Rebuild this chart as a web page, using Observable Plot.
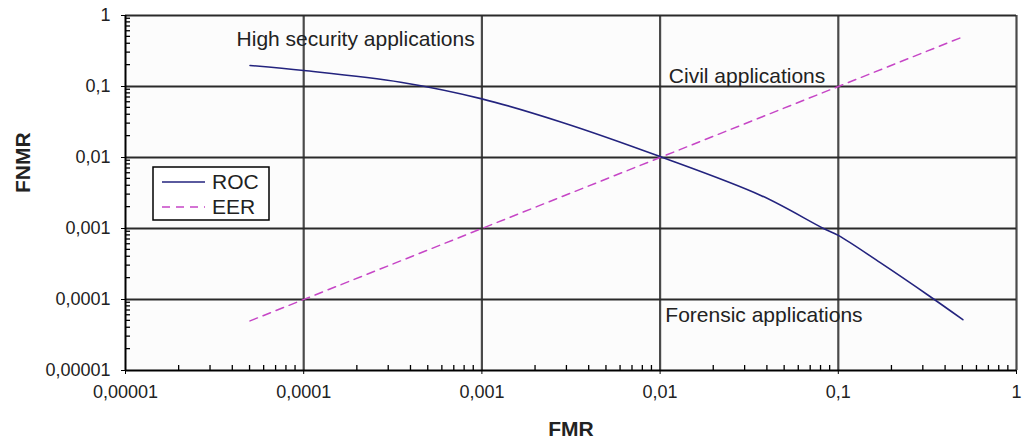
<!DOCTYPE html>
<html><head><meta charset="utf-8">
<script src="https://cdn.jsdelivr.net/npm/d3@7"></script>
<script src="https://cdn.jsdelivr.net/npm/@observablehq/plot@0.6"></script>
<style>body{margin:0;background:#fff;font-family:"Liberation Sans",Arial,sans-serif}</style>
</head><body><div id="chart"></div>
<script>
// Axis decades and their labels
const decades = [1e-5, 1e-4, 1e-3, 1e-2, 1e-1, 1];
const tickLabels = ["0,00001", "0,0001", "0,001", "0,01", "0,1", "1"];
// ROC curve
const rocFMR  = [5e-5, 1e-4, 3.5e-4, 1e-3, 2.8e-3, 1e-2, 3.7e-2, 8.2e-2, 1e-1, 1.72e-1, 3.24e-1, 5e-1];
const rocFNMR = [0.198, 0.168, 0.115, 0.067, 0.0314, 0.0103, 0.0029, 0.00101, 0.0008, 0.00033, 0.000112, 5.2e-5];
// EER line
const eerFMR  = [5e-5, 0.5];
const eerFNMR = [5e-5, 0.5];
// Annotations
const annText = ["High security applications", "Civil applications", "Forensic applications"];
const annFMR  = [4.2e-5, 0.0112, 0.0107];
const annFNMR = [0.459, 0.138, 5.95e-5];
const seriesNames = ["ROC", "EER"];
const axisNames = ["FMR", "FNMR"];

const roc = rocFMR.map((x, i) => ({x, y: rocFNMR[i]}));
const eer = eerFMR.map((x, i) => ({x, y: eerFNMR[i]}));
const ann = annText.map((t, i) => ({t, x: annFMR[i], y: annFNMR[i]}));
const minor = [];
for (const d of decades.slice(0, -1)) for (let k = 2; k < 10; k++) minor.push(d * k);
const fmt = d => { const i = decades.findIndex(v => Math.abs(v - d) / v < 1e-9); return i >= 0 ? tickLabels[i] : ""; };

const ROC_COLOR = "#23237e";
const EER_COLOR = "#c646c6";
const FONT = '"Liberation Sans", Arial, sans-serif';

const plot = Plot.plot({
  width: 1025, height: 444,
  marginLeft: 125, marginRight: 9, marginTop: 15, marginBottom: 74,
  style: {fontFamily: FONT, fontSize: "18px", color: "#111", background: "white", overflow: "visible"},
  x: {type: "log", domain: [1e-5, 1]},
  y: {type: "log", domain: [1e-5, 1]},
  marks: [
    Plot.frame({fill: "#fcfcfc", stroke: null}),
    Plot.ruleX(decades.slice(1), {stroke: "#4a4a4a", strokeWidth: 2.2}),
    Plot.ruleY(decades.slice(1), {stroke: "#2a2a2a", strokeWidth: 1.8}),
    Plot.line(eer, {x: "x", y: "y", stroke: EER_COLOR, strokeWidth: 1.5, strokeDasharray: "8,6"}),
    Plot.line(roc, {x: "x", y: "y", stroke: ROC_COLOR, strokeWidth: 1.6, curve: "catmull-rom"}),
    Plot.ruleX([1e-5], {stroke: "#000", strokeWidth: 2}),
    Plot.ruleY([1e-5], {stroke: "#000", strokeWidth: 2}),
    Plot.axisX(decades, {tickSize: 4, tickPadding: 11, tickFormat: fmt, label: null, stroke: "#000", fill: "#222"}),
    Plot.axisY(decades, {tickSize: 4, tickPadding: 11, tickFormat: fmt, label: null, stroke: "#000", fill: "#222"}),
    Plot.text([axisNames[0]], {frameAnchor: "bottom", dy: 65, lineAnchor: "bottom", fontWeight: "bold", fontSize: 21, fill: "#222"}),
    Plot.text([axisNames[1]], {frameAnchor: "left", dx: -110, rotate: -90, lineAnchor: "top", fontWeight: "bold", fontSize: 21, fill: "#222"}),
    Plot.text(ann, {x: "x", y: "y", text: "t", textAnchor: "start", lineAnchor: "middle", fontSize: 21, fill: "#222"})
  ]
});

const svg = d3.select(plot);
const sx = plot.scale("x"), sy = plot.scale("y");
const x0 = sx.apply(1e-5), y0 = sy.apply(1e-5);
// Minor ticks pointing into the plot area
const mt = svg.append("g").attr("stroke", "#000").attr("stroke-width", 1.3);
minor.forEach(v => {
  const px = sx.apply(v), py = sy.apply(v);
  mt.append("line").attr("x1", px).attr("x2", px).attr("y1", y0).attr("y2", y0 - 5);
  mt.append("line").attr("x1", x0).attr("x2", x0 + 5).attr("y1", py).attr("y2", py);
});

// Legend box inside plot area
const lg = svg.append("g");
lg.append("rect").attr("x", 153).attr("y", 167).attr("width", 116).attr("height", 53)
  .attr("fill", "white").attr("stroke", "#000").attr("stroke-width", 1.5);
[ROC_COLOR, EER_COLOR].forEach((c, i) => {
  const y = 182 + i * 25;
  lg.append("line").attr("x1", 162).attr("x2", 205).attr("y1", y).attr("y2", y)
    .attr("stroke", c).attr("stroke-width", 1.6).attr("stroke-dasharray", i ? "8,6" : null);
  lg.append("text").attr("x", 212).attr("y", y + 7).attr("font-size", 21).attr("fill", "#222")
    .attr("text-anchor", "start").attr("font-family", FONT).text(seriesNames[i]);
});

document.getElementById("chart").append(plot);
</script>
</body></html>
